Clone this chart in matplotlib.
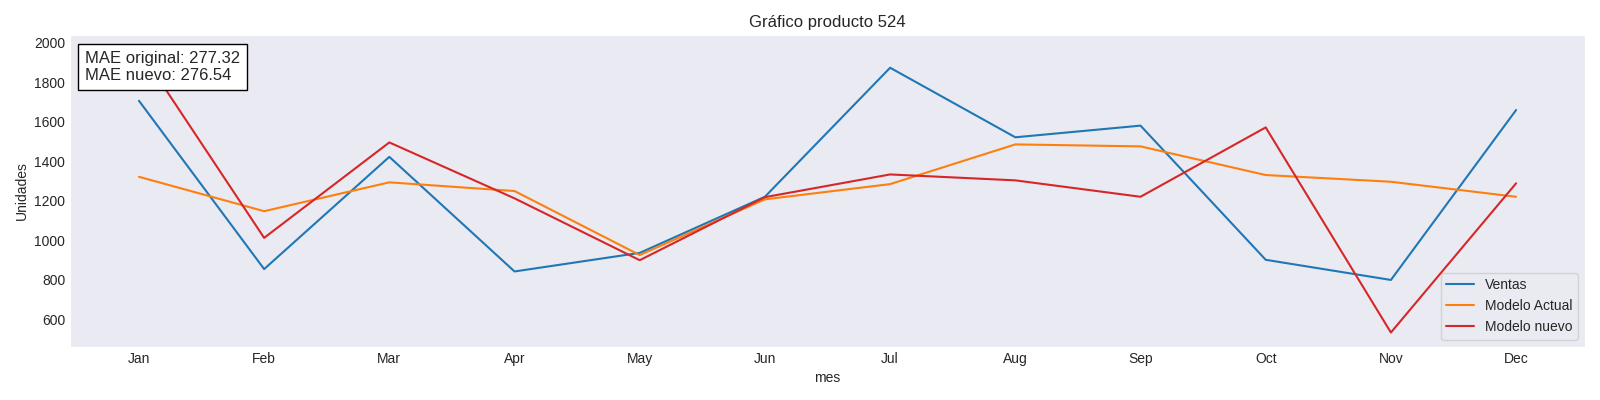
import matplotlib
matplotlib.use("Agg")
import matplotlib.pyplot as plt
import seaborn as sns

meses = ["Jan", "Feb", "Mar", "Apr", "May", "Jun", "Jul", "Aug", "Sep", "Oct", "Nov", "Dec"]
ventas = [1706, 854, 1422, 842, 936, 1220, 1873, 1521, 1580, 901, 799, 1659]
modelo_actual = [1321, 1147, 1293, 1249, 925, 1207, 1284, 1485, 1475, 1330, 1296, 1220]
modelo_nuevo = [1967, 1012, 1495, 1212, 899, 1218, 1333, 1303, 1220, 1571, 533, 1288]
mae_original = 277.32
mae_nuevo = 276.54

sns.set_style("dark")
plt.rcParams['font.family'] = ['Liberation Sans', 'DejaVu Sans']
plt.rcParams['xtick.major.size'] = 0
plt.rcParams['ytick.major.size'] = 0

fig, ax = plt.subplots(figsize=(16, 4), dpi=100)
ax.plot(meses, ventas, color="#1f77b4", label="Ventas")
ax.plot(meses, modelo_actual, color="#ff7f0e", label="Modelo Actual")
ax.plot(meses, modelo_nuevo, color="#d62728", label="Modelo nuevo")

ax.set_title("Gráfico producto 524")
ax.set_xlabel("mes")
ax.set_ylabel("Unidades")
ax.legend(loc="lower right")

# cuadro con los errores
texto = "MAE original: %.2f\nMAE nuevo: %.2f" % (mae_original, mae_nuevo)
ax.text(0.0097, 0.95, texto, transform=ax.transAxes, fontsize=12, va="top", ha="left",
        bbox=dict(facecolor="white", edgecolor="black", boxstyle="square,pad=0.4"))

plt.subplots_adjust(left=0.0438, right=0.9906, top=0.9125, bottom=0.1333)
plt.savefig("out.png")
